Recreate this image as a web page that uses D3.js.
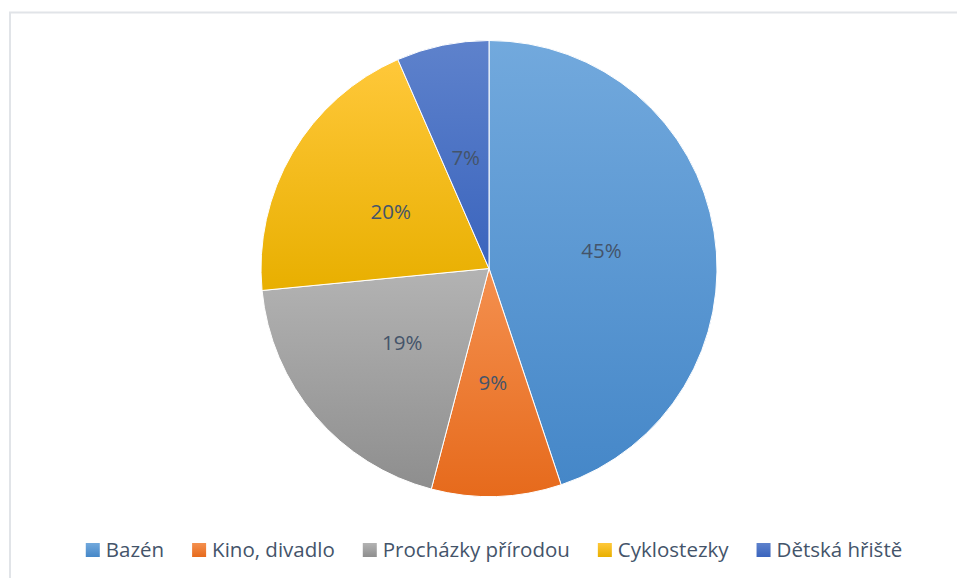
<!DOCTYPE html>
<html>
<head>
<meta charset="utf-8">
<script src="https://cdn.jsdelivr.net/npm/d3@7"></script>
<style>
  html, body { margin: 0; padding: 0; background: #fff; }
  svg { display: block; }
</style>
</head>
<body>
<svg id="chart" width="957" height="578"></svg>
<script>
const categories = ["Bazén", "Kino, divadlo", "Procházky přírodou", "Cyklostezky", "Dětská hřiště"];
const values = [44.9, 9.2, 19.4, 20.0, 6.55];
const topColors = ["#72A9DD", "#F4904F", "#B3B3B3", "#FFC83A", "#5E82CC"];
const bottomColors = ["#4587C8", "#E66A1C", "#8E8E8E", "#E8AF00", "#3A64BD"];

const W = 957, H = 578;
const cx = 489, cy = 268.5, R = 228;
const textColor = "#44546A";
const font = "'Open Sans', 'Noto Sans', sans-serif";

const svg = d3.select("#chart");

// frame
svg.append("rect")
  .attr("x", 10).attr("y", 12.5)
  .attr("width", W + 20).attr("height", H + 20)
  .attr("fill", "#fff")
  .attr("stroke", "#E1E4E8")
  .attr("stroke-width", 2);

const defs = svg.append("defs");
categories.forEach((c, i) => {
  const g = defs.append("linearGradient")
    .attr("id", "grad" + i)
    .attr("x1", 0).attr("y1", 0).attr("x2", 0).attr("y2", 1);
  g.append("stop").attr("offset", "0%").attr("stop-color", topColors[i]);
  g.append("stop").attr("offset", "100%").attr("stop-color", bottomColors[i]);
});

const data = categories.map((c, i) => ({ name: c, value: values[i], idx: i }));
const total = d3.sum(values);

const pie = d3.pie().sort(null).value(d => d.value).startAngle(0).endAngle(2 * Math.PI);
const arcs = pie(data);
const arc = d3.arc().innerRadius(0).outerRadius(R);
const labelArc = d3.arc().innerRadius(R * 0.5).outerRadius(R * 0.5);

const g = svg.append("g").attr("transform", `translate(${cx},${cy})`);

g.selectAll("path.slice")
  .data(arcs)
  .join("path")
  .attr("class", "slice")
  .attr("d", arc)
  .attr("fill", d => `url(#grad${d.data.idx})`)
  .attr("stroke", "#ffffff")
  .attr("stroke-width", 1)
  .attr("stroke-linejoin", "round");

const fmt = d3.format(".0%");
g.selectAll("text.lbl")
  .data(arcs)
  .join("text")
  .attr("class", "lbl")
  .attr("x", d => labelArc.centroid(d)[0])
  .attr("y", d => labelArc.centroid(d)[1] + 8)
  .attr("text-anchor", "middle")
  .attr("font-family", font)
  .attr("font-size", 20.5)
  .attr("fill", textColor)
  .text(d => fmt(d.data.value / total));

// legend
const legend = svg.append("g");
const items = legend.selectAll("g.item")
  .data(data)
  .join("g")
  .attr("class", "item");

items.append("rect")
  .attr("width", 14).attr("height", 14)
  .attr("y", 543)
  .attr("fill", d => `url(#grad${d.idx})`);

items.append("text")
  .attr("x", 20)
  .attr("y", 557)
  .attr("font-family", font)
  .attr("font-size", 20.5)
  .attr("fill", textColor)
  .text(d => d.name);

let x = 0;
const positions = [];
items.each(function (d) {
  const tw = d3.select(this).select("text").node().getComputedTextLength();
  positions.push(x);
  x += 20 + tw + 28;
});
const totalW = x - 28;
const startX = 494 - totalW / 2;
items.attr("transform", (d, i) => `translate(${startX + positions[i]},0)`);
</script>
</body>
</html>
